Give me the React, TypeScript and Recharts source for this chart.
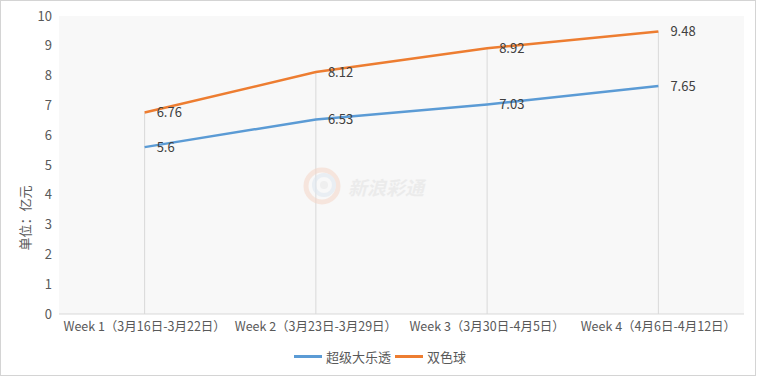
import React from "react";
import {
  CartesianGrid,
  LabelList,
  Legend,
  Line,
  LineChart,
  ReferenceLine,
  XAxis,
  YAxis,
} from "recharts";

const weeks = [
  "Week 1（3月16日-3月22日）",
  "Week 2（3月23日-3月29日）",
  "Week 3（3月30日-4月5日）",
  "Week 4（4月6日-4月12日）",
];
const daletou = [5.6, 6.53, 7.03, 7.65];
const shuangseqiu = [6.76, 8.12, 8.92, 9.48];
const yTicks = [0, 1, 2, 3, 4, 5, 6, 7, 8, 9, 10];

const seriesNames = { daletou: "超级大乐透", ssq: "双色球" };
const colors = { daletou: "#5B9BD5", ssq: "#ED7D31" };

const data = weeks.map((week, i) => ({
  week,
  daletou: daletou[i],
  ssq: shuangseqiu[i],
}));

const FONT = '"Noto Sans CJK SC", "Open Sans", sans-serif';

function LegendContent() {
  const items = [
    { key: "daletou", name: seriesNames.daletou, color: colors.daletou },
    { key: "ssq", name: seriesNames.ssq, color: colors.ssq },
  ];
  return (
    <div style={{ display: "flex", justifyContent: "center", gap: 4, fontFamily: FONT, fontSize: 13, color: "#595959" }}>
      {items.map((it) => (
        <div key={it.key} style={{ display: "flex", alignItems: "center", gap: 4 }}>
          <span style={{ display: "inline-block", width: 28, height: 3, background: it.color }} />
          <span>{it.name}</span>
        </div>
      ))}
    </div>
  );
}

function Watermark() {
  return (
    <div style={{ position: "absolute", left: 302, top: 166, display: "flex", alignItems: "center", pointerEvents: "none", opacity: 0.55 }}>
      <svg width="44" height="40">
        <circle cx="20" cy="20" r="16" fill="none" stroke="#f6d7c8" strokeWidth="5" />
        <circle cx="22" cy="19" r="10" fill="none" stroke="#dde6ef" strokeWidth="4" />
        <circle cx="22" cy="19" r="4" fill="#e8e8e8" />
      </svg>
      <span style={{ fontFamily: FONT, fontSize: 19, fontWeight: 700, fontStyle: "italic", color: "#e2e2e2", marginLeft: 2 }}>
        新浪彩通
      </span>
    </div>
  );
}

export default function App() {
  return (
    <div style={{ position: "absolute", left: 0, top: 0, width: 760, height: 380, background: "#fff" }}>
      <div style={{ position: "absolute", left: 0, top: 0, width: 754, height: 374, border: "1px solid #d4d4d4" }} />
      <LineChart
        width={760}
        height={380}
        data={data}
        margin={{ top: 16, right: 16, bottom: 36, left: 0 }}
        style={{ position: "absolute", left: 0, top: 0, fontFamily: FONT }}
      >
        <CartesianGrid horizontal={false} vertical={false} fill="#f8f8f8" />
        <XAxis
          dataKey="week"
          scale="band"
          height={30}
          tickLine={false}
          tickSize={0}
          tickMargin={8}
          axisLine={{ stroke: "#d9d9d9" }}
          tick={{ fill: "#595959", fontSize: 12.5 }}
          interval={0}
        />
        <YAxis
          width={59}
          domain={[0, 10]}
          ticks={yTicks}
          axisLine={false}
          tickLine={false}
          tickSize={0}
          tickMargin={7}
          tick={{ fill: "#595959", fontSize: 13 }}
          label={{
            content: () => (
              <text
                x={24}
                y={218}
                transform="rotate(-90 24 218)"
                textAnchor="middle"
                dominantBaseline="central"
                fill="#595959"
                fontSize={13}
                fontFamily={FONT}
              >
                单位：亿元
              </text>
            ),
          }}
        />
        {weeks.map((w, i) => (
          <ReferenceLine
            key={w}
            segment={[
              { x: w, y: 0 },
              { x: w, y: shuangseqiu[i] },
            ]}
            stroke="#d9d9d9"
            strokeWidth={1}
          />
        ))}
        <Line
          type="linear"
          dataKey="daletou"
          name={seriesNames.daletou}
          stroke={colors.daletou}
          strokeWidth={2.5}
          dot={false}
          activeDot={false}
          isAnimationActive={false}
        >
          <LabelList dataKey="daletou" position="right" offset={12} fill="#404040" fontSize={13} />
        </Line>
        <Line
          type="linear"
          dataKey="ssq"
          name={seriesNames.ssq}
          stroke={colors.ssq}
          strokeWidth={2.5}
          dot={false}
          activeDot={false}
          isAnimationActive={false}
        >
          <LabelList dataKey="ssq" position="right" offset={12} fill="#404040" fontSize={13} />
        </Line>
        <Legend
          layout="horizontal"
          verticalAlign="middle"
          align="center"
          content={<LegendContent />}
          wrapperStyle={{ top: 347, left: 0, width: 760 }}
        />
      </LineChart>
      <Watermark />
    </div>
  );
}
